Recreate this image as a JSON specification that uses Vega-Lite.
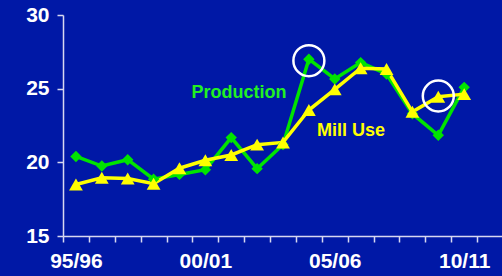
{
  "$schema": "https://vega.github.io/schema/vega-lite/v6.json",
  "autosize": "none",
  "width": 440,
  "height": 221,
  "padding": {"left": 63, "top": 15, "right": 0, "bottom": 40},
  "background": "#0018A6",
  "config": {"view": {"stroke": null}, "font": "Liberation Sans"},
  "datasets": {
    "series": [
      {"year": "95/96", "series": "Production", "value": 20.4},
      {"year": "96/97", "series": "Production", "value": 19.75},
      {"year": "97/98", "series": "Production", "value": 20.18},
      {"year": "98/99", "series": "Production", "value": 18.86},
      {"year": "99/00", "series": "Production", "value": 19.18},
      {"year": "00/01", "series": "Production", "value": 19.5},
      {"year": "01/02", "series": "Production", "value": 21.68},
      {"year": "02/03", "series": "Production", "value": 19.57},
      {"year": "03/04", "series": "Production", "value": 21.2},
      {"year": "04/05", "series": "Production", "value": 27.0},
      {"year": "05/06", "series": "Production", "value": 25.66},
      {"year": "06/07", "series": "Production", "value": 26.77},
      {"year": "07/08", "series": "Production", "value": 26.0},
      {"year": "08/09", "series": "Production", "value": 23.3},
      {"year": "09/10", "series": "Production", "value": 21.84},
      {"year": "10/11", "series": "Production", "value": 25.09},
      {"year": "95/96", "series": "Mill Use", "value": 18.5},
      {"year": "96/97", "series": "Mill Use", "value": 18.95},
      {"year": "97/98", "series": "Mill Use", "value": 18.9},
      {"year": "98/99", "series": "Mill Use", "value": 18.55},
      {"year": "99/00", "series": "Mill Use", "value": 19.6},
      {"year": "00/01", "series": "Mill Use", "value": 20.14},
      {"year": "01/02", "series": "Mill Use", "value": 20.5},
      {"year": "02/03", "series": "Mill Use", "value": 21.2},
      {"year": "03/04", "series": "Mill Use", "value": 21.35},
      {"year": "04/05", "series": "Mill Use", "value": 23.55},
      {"year": "05/06", "series": "Mill Use", "value": 24.95},
      {"year": "06/07", "series": "Mill Use", "value": 26.39},
      {"year": "07/08", "series": "Mill Use", "value": 26.34},
      {"year": "08/09", "series": "Mill Use", "value": 23.43},
      {"year": "09/10", "series": "Mill Use", "value": 24.45},
      {"year": "10/11", "series": "Mill Use", "value": 24.63}
    ],
    "circles": [
      {"year": "04/05", "value": 26.9},
      {"year": "09/10", "value": 24.5}
    ],
    "prodLabel": [
      {"year": "99/00", "value": 24.68, "label": "Production"}
    ],
    "millLabel": [
      {"year": "04/05", "value": 22.1, "label": "Mill Use"}
    ]
  },
  "encoding": {
    "x": {
      "field": "year", "type": "ordinal", "sort": null,
      "scale": {
        "type": "band", "paddingInner": 0, "paddingOuter": 0,
        "domain": ["95/96","96/97","97/98","98/99","99/00","00/01","01/02","02/03","03/04","04/05","05/06","06/07","07/08","08/09","09/10","10/11","11/12"]
      },
      "axis": {
        "title": null, "labelAngle": 0, "tickBand": "extent",
        "labelExpr": "indexof(['95/96','00/01','05/06','10/11'], datum.value) >= 0 ? datum.label : ''",
        "labelColor": "white", "labelFont": "Liberation Sans", "labelFontWeight": "bold", "labelFontSize": 21,
        "labelPadding": 8, "domainColor": "#D8D8F0", "tickColor": "#D8D8F0", "tickSize": 6, "domainWidth": 1.5, "tickWidth": 1.5,
        "grid": false
      }
    },
    "y": {
      "field": "value", "type": "quantitative",
      "scale": {"domain": [15, 30], "nice": false, "zero": false},
      "axis": {
        "title": null, "values": [15, 20, 25, 30], "grid": false,
        "labelColor": "white", "labelFont": "Liberation Sans", "labelFontWeight": "bold", "labelFontSize": 21,
        "labelPadding": 8, "domainColor": "#D8D8F0", "tickColor": "#D8D8F0", "tickSize": 6, "domainWidth": 1.5, "tickWidth": 1.5
      }
    }
  },
  "layer": [
    {
      "data": {"name": "series"},
      "mark": {"type": "line", "strokeWidth": 3.5},
      "encoding": {
        "color": {"field": "series", "type": "nominal", "scale": {"domain": ["Production", "Mill Use"], "range": ["#00E400", "#FFFF00"]}, "legend": null}
      }
    },
    {
      "data": {"name": "series"},
      "mark": {"type": "point", "filled": true, "opacity": 1},
      "encoding": {
        "color": {"field": "series", "type": "nominal", "scale": {"domain": ["Production", "Mill Use"], "range": ["#00E400", "#FFFF00"]}, "legend": null},
        "shape": {"field": "series", "type": "nominal", "scale": {"domain": ["Production", "Mill Use"], "range": ["diamond", "triangle-up"]}, "legend": null},
        "size": {"field": "series", "type": "nominal", "scale": {"domain": ["Production", "Mill Use"], "range": [130, 190]}, "legend": null}
      }
    },
    {
      "data": {"name": "circles"},
      "mark": {"type": "point", "shape": "circle", "filled": false, "stroke": "white", "strokeWidth": 2.5, "size": 960, "opacity": 1}
    },
    {
      "data": {"name": "prodLabel"},
      "mark": {"type": "text", "align": "left", "baseline": "middle", "fontWeight": "bold", "fontSize": 18, "font": "Liberation Sans", "dx": 12, "color": "#22F022"},
      "encoding": {"text": {"field": "label"}}
    },
    {
      "data": {"name": "millLabel"},
      "mark": {"type": "text", "align": "left", "baseline": "middle", "fontWeight": "bold", "fontSize": 18, "font": "Liberation Sans", "dx": 8, "color": "#FFFF00"},
      "encoding": {"text": {"field": "label"}}
    }
  ]
}
